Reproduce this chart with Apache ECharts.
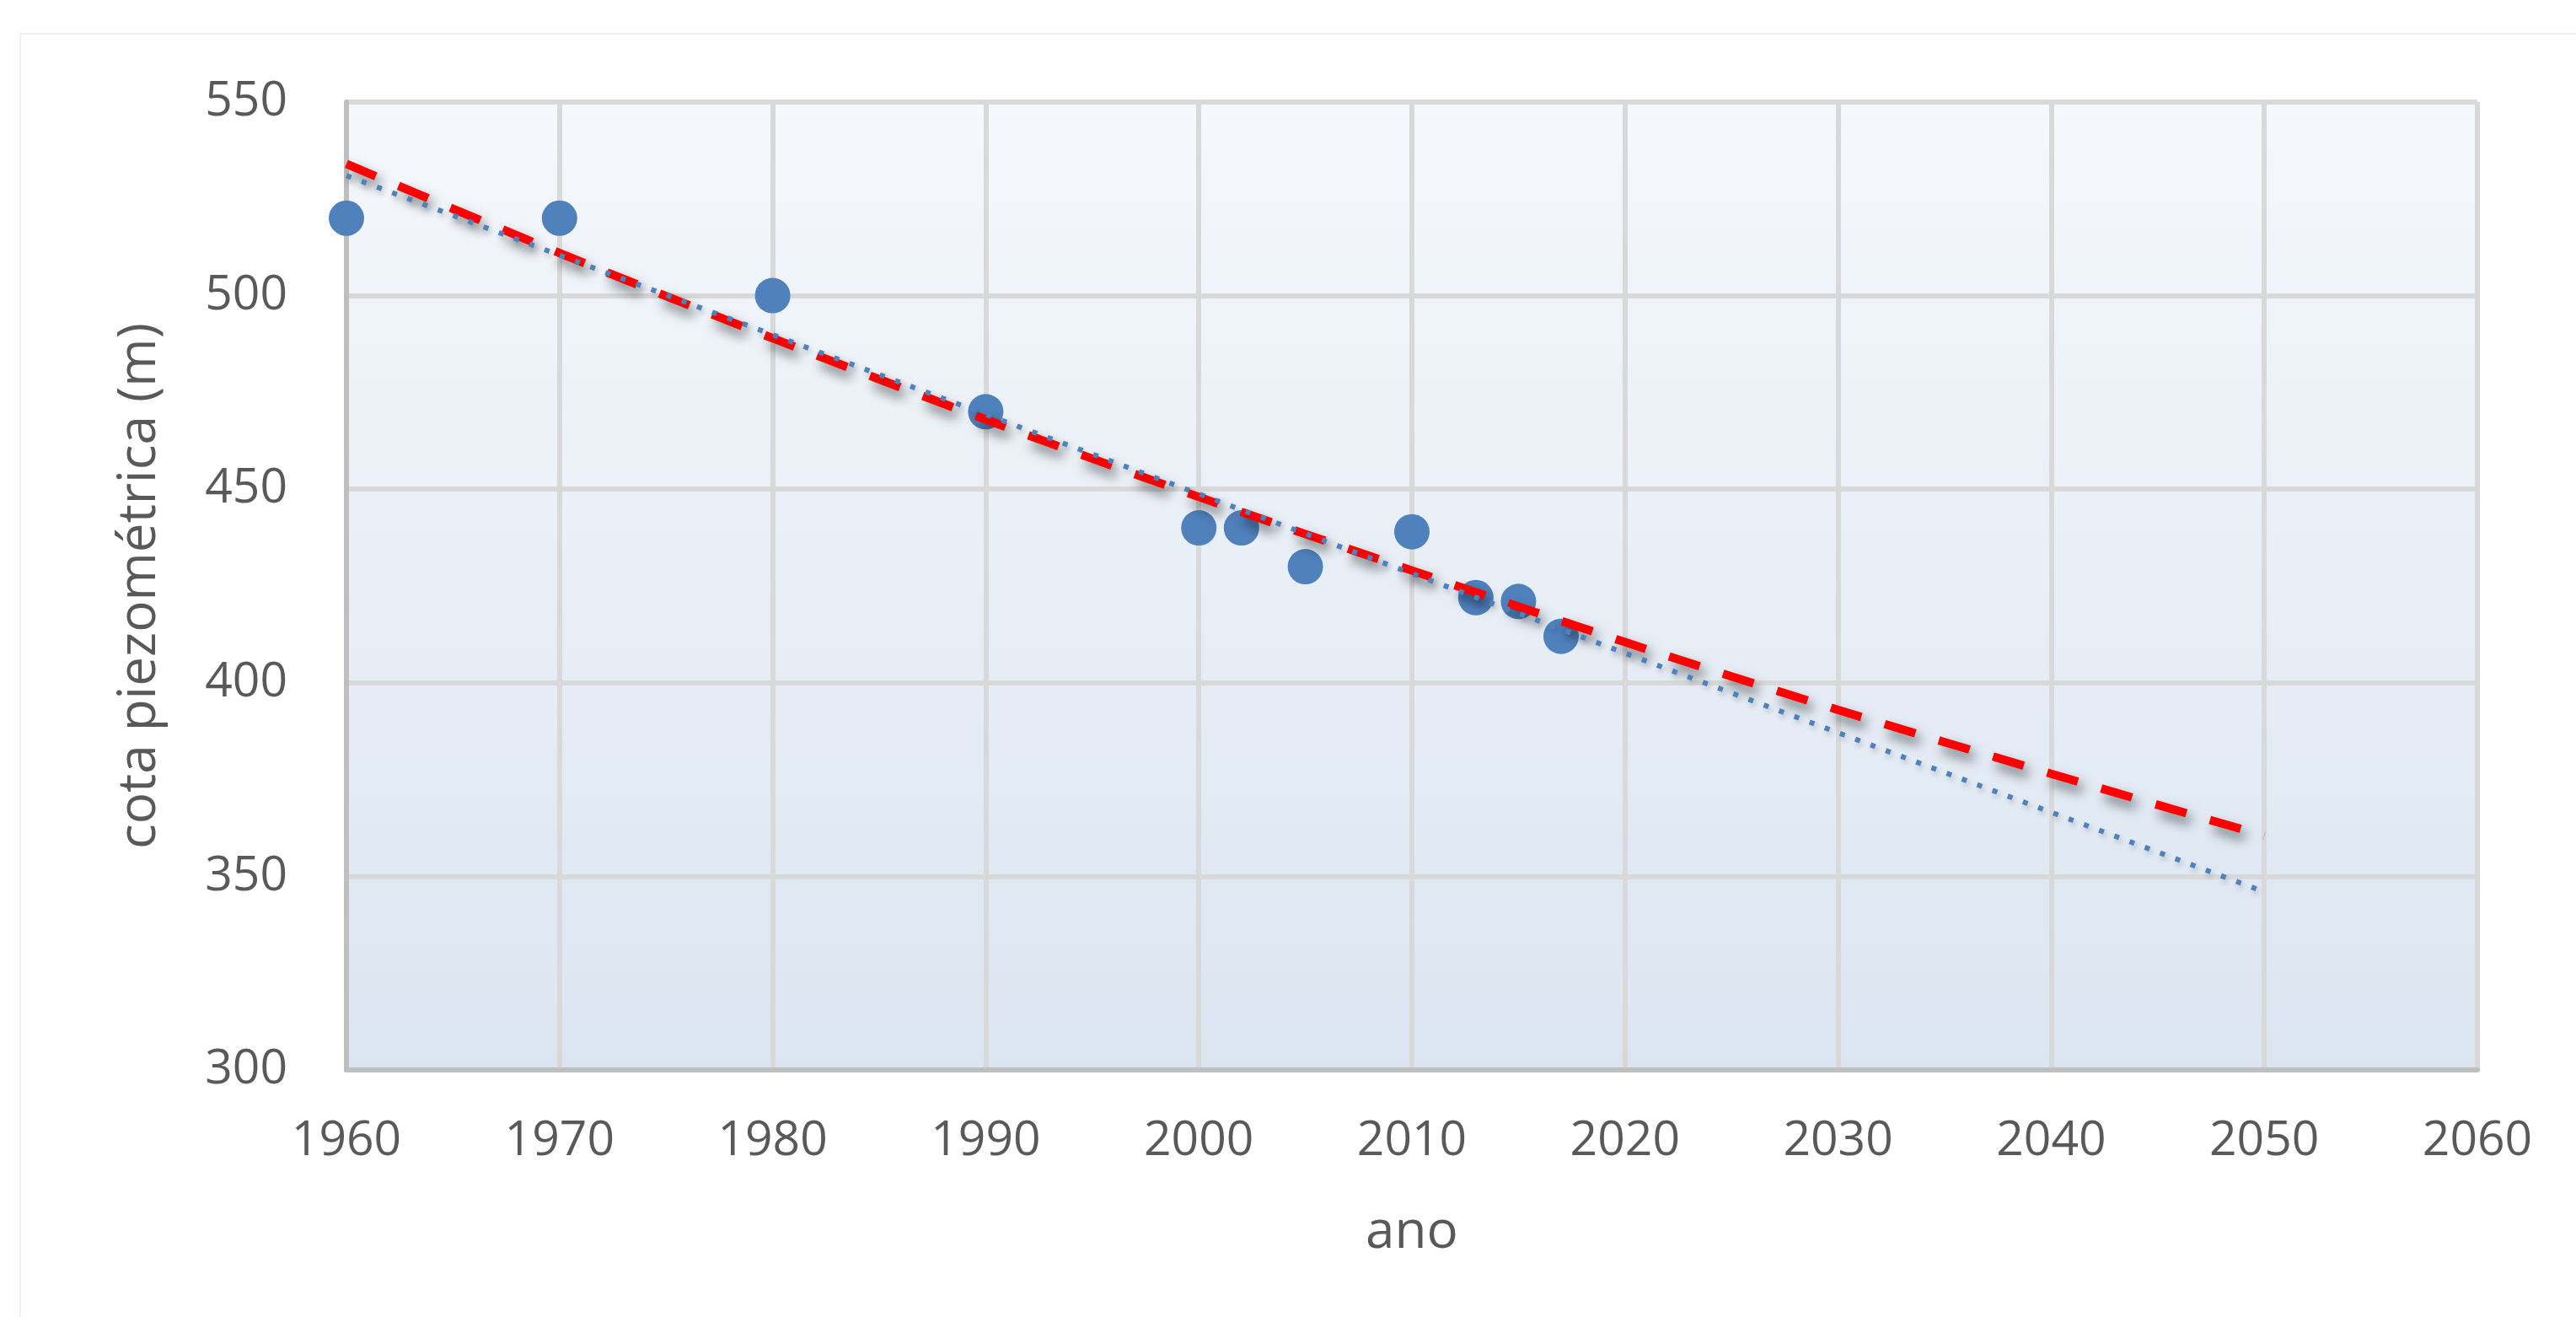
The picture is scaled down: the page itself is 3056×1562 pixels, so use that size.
<!DOCTYPE html>
<html>
<head>
<meta charset="utf-8">
<script src="https://cdn.jsdelivr.net/npm/echarts@6/dist/echarts.min.js"></script>
<style>
html,body{margin:0;padding:0;background:#ffffff;}
#chart{width:3056px;height:1562px;}
</style>
</head>
<body>
<div id="chart"></div>
<script>
// observed data
const years = [1960, 1970, 1980, 1990, 2000, 2002, 2005, 2010, 2013, 2015, 2017];
const cota = [520, 520, 500, 470, 440, 440, 430, 439, 422, 421, 412];
// red dashed trendline
const expYears = [1960, 1970, 1980, 1990, 2000, 2010, 2020, 2030, 2040, 2050];
const expValues = [534, 511, 489, 468, 448, 429, 410.5, 393, 376.5, 360.5];
// blue dotted trendline
const linYears = [1960, 2050];
const linValues = [531, 346];

const xTicks = [1960, 1970, 1980, 1990, 2000, 2010, 2020, 2030, 2040, 2050, 2060];
const yTicks = [300, 350, 400, 450, 500, 550];

const chart = echarts.init(document.getElementById('chart'));
const textColor = '#595959';
const font = '"Open Sans", "Liberation Sans", sans-serif';

chart.setOption({
  animation: false,
  backgroundColor: '#ffffff',
  graphic: [{
    type: 'rect', z: -10,
    shape: {x: 24, y: 40, width: 3200, height: 1700},
    style: {fill: 'none', stroke: '#f0f0f0', lineWidth: 2}
  }],
  grid: {
    left: 411, right: 117, top: 121, bottom: 293,
    show: true, borderWidth: 0,
    backgroundColor: new echarts.graphic.LinearGradient(0, 0, 0, 1, [
      {offset: 0, color: '#f5f8fc'},
      {offset: 1, color: '#dbe5f1'}
    ])
  },
  xAxis: {
    type: 'value', min: xTicks[0], max: xTicks[xTicks.length - 1], interval: 10,
    name: 'ano', nameLocation: 'middle', nameGap: 162,
    nameTextStyle: {fontFamily: font, fontSize: 62, color: textColor},
    axisLine: {show: true, onZero: false, lineStyle: {color: '#bfbfbf', width: 6}},
    axisTick: {show: false},
    axisLabel: {fontFamily: font, fontSize: 57, color: textColor, margin: 56,
      formatter: v => xTicks.includes(v) ? String(v) : ''},
    splitLine: {show: true, lineStyle: {color: '#d9d9d9', width: 6}}
  },
  yAxis: {
    type: 'value', min: yTicks[0], max: yTicks[yTicks.length - 1], interval: 50,
    name: 'cota piezométrica (m)', nameLocation: 'middle', nameGap: 214,
    nameTextStyle: {fontFamily: font, fontSize: 62, color: textColor},
    axisLine: {show: true, onZero: false, lineStyle: {color: '#bfbfbf', width: 6}},
    axisTick: {show: false},
    axisLabel: {fontFamily: font, fontSize: 57, color: textColor, margin: 70,
      formatter: v => yTicks.includes(v) ? String(v) : ''},
    splitLine: {show: true, lineStyle: {color: '#d9d9d9', width: 6}}
  },
  series: [
    {
      type: 'scatter', z: 2,
      data: years.map((y, i) => [y, cota[i]]),
      symbol: 'circle', symbolSize: 42,
      itemStyle: {color: '#4f81bd', opacity: 1}
    },
    {
      type: 'line', z: 4, showSymbol: false, symbol: 'none',
      data: expYears.map((y, i) => [y, expValues[i]]),
      smooth: 0.3,
      lineStyle: {color: '#ff0000', width: 10, type: [38, 29],
        shadowColor: 'rgba(0,0,0,0.5)', shadowBlur: 14, shadowOffsetX: 5, shadowOffsetY: 9}
    },
    {
      type: 'line', z: 5, showSymbol: false, symbol: 'none',
      data: linYears.map((y, i) => [y, linValues[i]]),
      lineStyle: {color: '#4f81bd', width: 6, type: [6, 13.3],
        shadowColor: 'rgba(0,0,0,0.2)', shadowBlur: 6, shadowOffsetX: 2, shadowOffsetY: 4}
    }
  ]
});
</script>
</body>
</html>
